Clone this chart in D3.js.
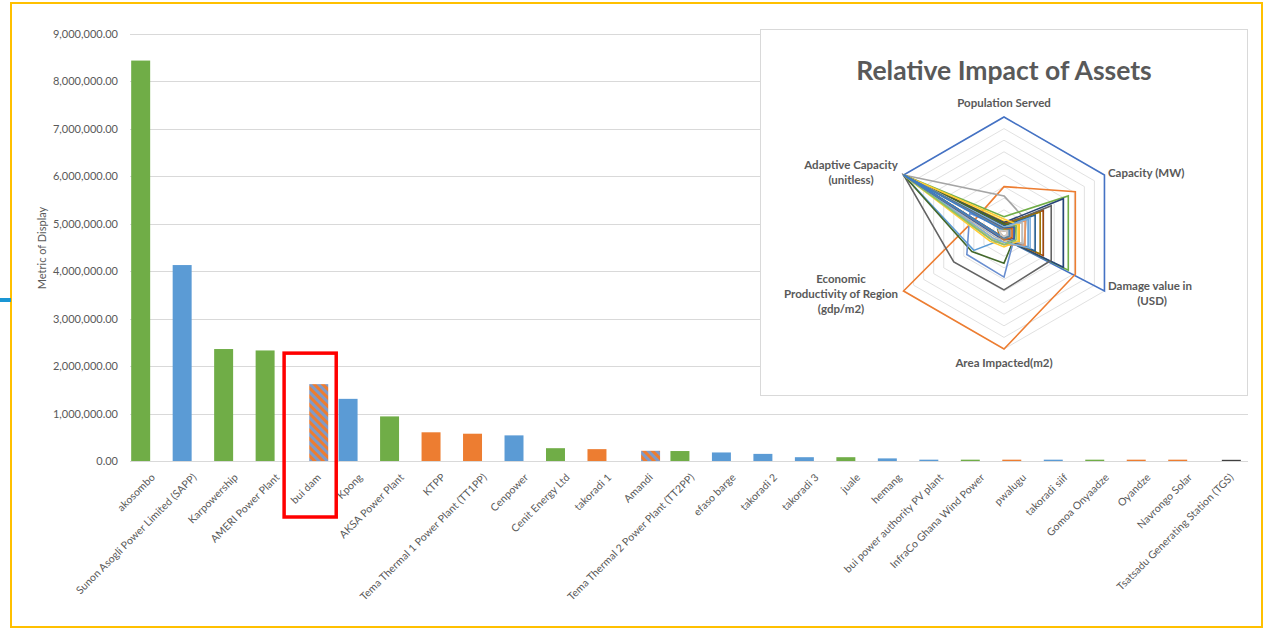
<!DOCTYPE html>
<html><head><meta charset="utf-8">
<script src="https://cdn.jsdelivr.net/npm/d3@7/dist/d3.min.js"></script>
<style>
body{margin:0;background:#fff;}
svg{display:block;font-family:Lato,"Open Sans",sans-serif;}
</style>
</head><body>
<svg id="chart" width="1266" height="629"></svg>
<script>
// ---------------- DATA ----------------
const assets = ["akosombo","Sunon Asogli Power Limited (SAPP)","Karpowership","AMERI Power Plant","bui dam","Kpong","AKSA Power Plant","KTPP","Tema Thermal 1 Power Plant (TT1PP)","Cenpower","Cenit Energy Ltd","takoradi 1","Amandi","Tema Thermal 2 Power Plant (TT2PP)","efaso barge","takoradi 2","takoradi 3","juale","hemang","bui power authority PV plant","InfraCo Ghana Wind Power","pwalugu","takoradi siif","Gomoa Onyaadze","Oyandze","Navrongo Solar","Tsatsadu Generating Station (TGS)"];
const metricValues = [8440000,4130000,2360000,2330000,1620000,1310000,940000,605000,575000,540000,270000,250000,215000,210000,180000,150000,80000,80000,55000,28000,28000,28000,28000,28000,28000,28000,25000];
const assetGroup = ["A","B","A","A","mixed","B","A","C","C","B","A","C","mixed","A","B","B","B","A","B","B","A","C","B","A","C","C","other"];
const yTicks = [0,1000000,2000000,3000000,4000000,5000000,6000000,7000000,8000000,9000000];
const highlightAsset = "bui dam";

const radarTitle = "Relative Impact of Assets";
const radarAxes = [["Population Served"],["Capacity (MW)"],["Damage value in","(USD)"],["Area Impacted(m2)"],["Economic","Productivity of Region","(gdp/m2)"],["Adaptive Capacity","(unitless)"]];
const popServed    = [1.00,0.40,0.32,0.10,0.06,0.14,0.09,0.08,0.07,0.07,0.06,0.08,0.04,0.05,0.05,0.12,0.05,0.04,0.04,0.03,0.03,0.03,0.02,0.02,0.02,0.02,0.02];
const capacityMW   = [1.00,0.71,0.22,0.15,0.24,0.64,0.59,0.39,0.47,0.36,0.31,0.12,0.10,0.21,0.18,0.14,0.26,0.12,0.10,0.08,0.06,0.05,0.05,0.04,0.04,0.03,0.03];
const damageUSD    = [1.00,0.71,0.20,0.15,0.24,0.64,0.59,0.39,0.47,0.36,0.31,0.10,0.10,0.21,0.18,0.14,0.26,0.12,0.10,0.08,0.06,0.05,0.05,0.04,0.04,0.03,0.03];
const areaImpacted = [0.05,1.00,0.04,0.08,0.05,0.05,0.05,0.04,0.49,0.04,0.04,0.26,0.38,0.10,0.06,0.12,0.08,0.10,0.05,0.06,0.05,0.04,0.04,0.03,0.03,0.03,0.03];
const econProd     = [0.05,1.00,0.05,0.10,0.30,0.05,0.05,0.04,0.50,0.04,0.05,0.32,0.37,0.12,0.08,0.14,0.10,0.12,0.06,0.05,0.05,0.04,0.04,0.03,0.03,0.03,0.03];
const adaptiveCap  = [1.00,0.27,1.00,1.00,1.00,1.00,1.00,1.00,1.00,1.00,1.00,1.00,0.34,1.00,1.00,1.00,1.00,1.00,1.00,0.06,1.00,0.05,1.00,0.06,0.05,0.04,0.05];
const radarLevels = [0.1,0.2,0.3,0.4,0.5,0.6,0.7,0.8,0.9,1.0];

// ---------------- STYLE ----------------
const groupColor = {A:"#70AD47",B:"#5B9BD5",C:"#ED7D31",mixed:"url(#hatch)",other:"#3F3F3F"};
const radarColors = ["#4472C4","#ED7D31","#A5A5A5","#FFC000","#5B9BD5","#70AD47","#264478","#9E480E","#636363","#997300","#255E91","#43682B","#698ED0","#F1975A","#B7B7B7","#FFCD33","#7CAFDD","#8CC168","#335AA1","#D26012","#848484","#CC9A00","#3C7DC4","#5A8A39","#8FAADC","#F4B183","#C9C9C9"];
const textCol = "#595959", gridCol = "#D9D9D9";

const svg = d3.select("#chart");
const defs = svg.append("defs");
const pat = defs.append("pattern").attr("id","hatch").attr("patternUnits","userSpaceOnUse")
  .attr("width",6).attr("height",6).attr("patternTransform","rotate(-45)");
pat.append("rect").attr("width",6).attr("height",6).attr("fill","#ED7D31");
pat.append("rect").attr("width",3).attr("height",6).attr("fill","#7F9AC8");

// outer frame
svg.append("rect").attr("x",11).attr("y",3).attr("width",1251).attr("height",624)
  .attr("fill","none").attr("stroke","#FFC000").attr("stroke-width",2);
svg.append("line").attr("x1",0).attr("x2",11).attr("y1",300).attr("y2",300)
  .attr("stroke","#1A96D4").attr("stroke-width",4);

// ---------------- BAR CHART ----------------
const plot = {left:126, right:1246, top:34, bottom:461};
const x = d3.scaleBand().domain(assets).range([plot.left, plot.right]).paddingInner(0.25).paddingOuter(0.125);
const y = d3.scaleLinear().domain([0, 9000000]).range([plot.bottom, plot.top]);
const barW = x.bandwidth() * 0.61;
const slot = g => (g === "mixed" || g === "other") ? x.bandwidth() - barW : 0;

// gridlines
svg.append("g").selectAll("line").data(yTicks).join("line")
  .attr("x1", plot.left + 4).attr("x2", plot.right + 2)
  .attr("y1", d => Math.round(y(d)) + 0.5).attr("y2", d => Math.round(y(d)) + 0.5)
  .attr("stroke", gridCol).attr("stroke-width", 1);

// y axis labels
const yAxis = d3.axisLeft(y).tickValues(yTicks).tickSize(0).tickPadding(0)
  .tickFormat(d3.format(",.2f"));
const gy = svg.append("g").attr("transform", `translate(${plot.left - 8},0)`).call(yAxis);
gy.select(".domain").remove();
gy.selectAll("text").attr("fill", textCol).style("font-size","11px").style("font-family","Lato, 'Open Sans', sans-serif");

svg.append("text").attr("transform","translate(46,248) rotate(-90)")
  .attr("text-anchor","middle").attr("fill",textCol).style("font-size","11px")
  .text("Metric of Display");

// bars
svg.append("g").selectAll("rect").data(assets).join("rect")
  .attr("x", (d,i) => x(d) + slot(assetGroup[i]))
  .attr("y", (d,i) => y(metricValues[i]))
  .attr("width", barW)
  .attr("height", (d,i) => y(0) - y(metricValues[i]))
  .attr("fill", (d,i) => groupColor[assetGroup[i]]);

// x labels
svg.append("g").selectAll("text").data(assets).join("text")
  .attr("transform", d => `translate(${x(d) + x.bandwidth()/2 + 9},${478}) rotate(-45)`)
  .attr("text-anchor","end").attr("fill",textCol).style("font-size","10.5px")
  .style("letter-spacing","0.1px")
  .text(d => d);

// highlight box
const hi = assets.indexOf(highlightAsset);
svg.append("rect")
  .attr("x", x(highlightAsset) - 13).attr("y", y(metricValues[hi]) - 31)
  .attr("width", x.bandwidth() + 21).attr("height", 517 - (y(metricValues[hi]) - 31))
  .attr("fill","none").attr("stroke","#FF0000").attr("stroke-width",3.5);

// ---------------- RADAR PANEL ----------------
svg.append("rect").attr("x",760.5).attr("y",29.5).attr("width",487).attr("height",366)
  .attr("fill","#fff").attr("stroke",gridCol).attr("stroke-width",1);
svg.append("text").attr("x",1004).attr("y",80).attr("text-anchor","middle")
  .attr("fill",textCol).style("font-size","26.5px").style("font-weight","bold").text(radarTitle);

const cx = 1004, cy = 233, R = 116;
const nAx = radarAxes.length;
const ang = d3.scaleLinear().domain([0, nAx]).range([0, 2*Math.PI]);
const r = d3.scaleLinear().domain([0,1]).range([0,R]);
const pt = (i, v) => [cx + r(v)*Math.sin(ang(i)), cy - r(v)*Math.cos(ang(i))];
const closed = d3.line().curve(d3.curveLinearClosed);

const rg = svg.append("g");
rg.selectAll("path.ring").data(radarLevels).join("path").attr("class","ring")
  .attr("d", lv => closed(d3.range(nAx).map(i => pt(i, lv))))
  .attr("fill","none").attr("stroke", gridCol).attr("stroke-width",0.8);

const axisArrays = [popServed, capacityMW, damageUSD, areaImpacted, econProd, adaptiveCap];
const series = d3.range(popServed.length).map(s => axisArrays.map(a => a[s]));
rg.selectAll("path.series").data(series).join("path").attr("class","series")
  .attr("d", vals => closed(vals.map((v,i) => pt(i, v))))
  .attr("fill","none").attr("stroke",(d,s) => radarColors[s % radarColors.length])
  .attr("stroke-width",1.6).attr("stroke-linejoin","miter");

// axis labels
const labelPos = [
  {x:1004, y:107, anchor:"middle"},
  {x:1108, y:177, anchor:"start"},
  {x:1108, y:290, anchor:"start", center:1152},
  {x:1004, y:367, anchor:"middle"},
  {x:841, y:283, anchor:"middle"},
  {x:851, y:169, anchor:"middle"}
];
radarAxes.forEach((lines, i) => {
  const p = labelPos[i];
  const t = svg.append("text").attr("fill",textCol).style("font-size","11.5px").style("font-weight","bold");
  lines.forEach((ln, k) => {
    const useCenter = p.center !== undefined && k > 0;
    t.append("tspan").attr("x", useCenter ? p.center : p.x).attr("y", p.y + k*15)
      .attr("text-anchor", useCenter ? "middle" : p.anchor).text(ln);
  });
});
</script>
</body></html>
